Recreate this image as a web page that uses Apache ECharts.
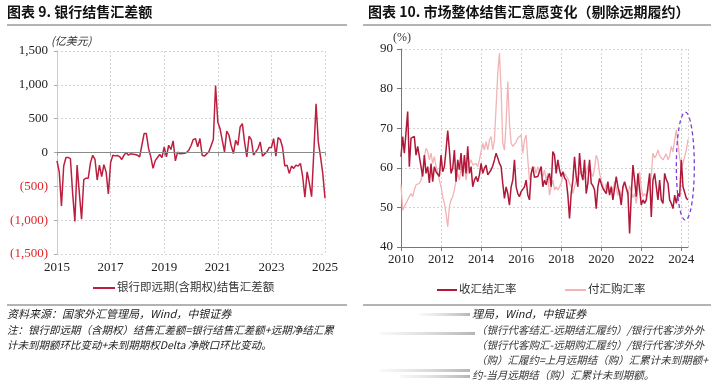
<!DOCTYPE html>
<html><head><meta charset="utf-8">
<script src="https://cdn.jsdelivr.net/npm/echarts@6/dist/echarts.min.js"></script>
<style>html,body{margin:0;padding:0;background:#fff}#c{width:719px;height:386px}</style>
</head><body><div id="c"></div>
<script>
// ---------- data ----------
const leftTitle = '图表 9. 银行结售汇差额';
const rightTitle = '图表 10. 市场整体结售汇意愿变化（剔除远期履约）';
const leftStartYear = 2015;      // monthly data from 2015-01
const rightStartYear = 2010;     // monthly data from 2010-01
const leftSeriesName = '银行即远期(含期权)结售汇差额';
const rightSeriesNames = ['收汇结汇率', '付汇购汇率'];
const leftYTicks = [-1500, -1000, -500, 0, 500, 1000, 1500];
const leftXTicks = [2015, 2017, 2019, 2021, 2023, 2025];
const rightYTicks = [40, 50, 60, 70, 80, 90];
const rightXTicks = [2010, 2012, 2014, 2016, 2018, 2020, 2022, 2024];

const leftNet = [
-123,-285,-790,-200,-73,-73,-90,-600,-1020,-187,-600,-985,
-400,-380,-380,-150,-41,-100,-407,-187,-358,-181,-290,-613,
-150,-40,-50,-45,-60,-103,-40,0,-40,-20,-25,-30,
-40,-64,107,280,280,60,-64,-235,-120,-74,-30,-74,
83,-64,107,44,171,-123,5,-20,-15,-10,0,34,
100,191,206,83,206,-40,-54,-20,10,100,191,990,
450,352,180,10,318,255,100,-15,181,108,377,426,
150,-64,240,191,-40,10,58,157,-54,-20,10,73,
73,206,-54,220,191,73,-200,-186,-309,-201,-235,-186,
-201,-162,-358,-661,-285,-456,-652,10,720,157,-64,-309,
-676];

const settleRate = [
62.8,67.9,63.7,64.1,74.2,60.3,67.5,67.0,67.9,63.2,65.4,62.8,
63.2,57.8,63.2,58.6,60.3,56.2,61.1,56.5,60.3,59.0,58.6,57.8,
63.2,59.0,60.3,64.5,69.4,64.5,58.6,59.9,64.5,56.5,62.0,59.5,
63.7,57.8,63.2,58.6,65.4,58.6,60.3,55.2,56.9,57.8,56.5,58.2,
61.1,58.6,59.9,60.7,58.2,58.2,59.5,60.5,62.0,63.7,62.5,61.1,
60.3,56.0,52.3,55.2,53.5,50.6,55.2,56.9,62.0,55.2,53.5,52.7,
54.0,53.5,55.2,56.9,53.1,51.9,58.6,60.3,57.6,57.8,57.8,57.3,
60.3,55.2,56.9,55.7,57.5,58.6,55.2,64.1,63.2,58.6,62.0,59.5,
57.8,59.0,57.5,56.9,53.1,47.2,53.5,56.9,62.8,57.8,55.2,63.7,
58.6,56.9,62.0,53.5,56.1,62.0,56.1,55.5,54.4,49.7,55.2,57.3,
56.0,54.8,55.2,53.5,56.5,53.1,55.2,51.9,54.8,57.8,55.2,53.5,
50.6,55.2,56.5,55.0,53.5,43.4,53.1,60.7,56.9,52.7,58.6,59.0,
50.6,51.9,51.0,51.9,55.2,58.6,47.6,56.9,58.6,55.2,51.9,56.9,
51.9,51.0,58.6,57.0,56.1,51.9,51.0,49.7,53.1,51.0,53.5,52.7,
62.0,55.2,55.7,52.3,51.9];

const purchaseRate = [
55.7,49.3,50.2,50.6,51.9,51.5,53.5,52.7,54.4,55.7,55.2,56.1,
56.9,59.5,62.8,64.9,64.1,62.0,63.7,61.1,62.8,60.3,59.0,56.9,
55.2,52.7,51.0,48.5,45.1,50.2,51.9,52.7,54.4,56.9,58.6,56.9,
60.3,58.6,61.1,56.9,60.3,59.9,62.0,60.7,60.7,61.1,60.3,62.0,
62.4,66.2,64.5,66.6,64.5,67.0,67.9,64.5,67.0,75.5,83.9,89.0,
79.7,66.2,64.5,71.3,81.8,71.3,66.2,65.4,65.4,66.5,67.5,68.0,
68.3,63.7,67.0,68.3,62.0,56.9,56.9,59.5,60.3,58.6,60.3,59.0,
58.6,57.8,59.5,56.9,58.6,53.1,55.2,56.9,54.4,55.2,54.4,55.2,
56.1,57.8,58.6,59.0,57.3,56.1,55.2,53.5,55.2,56.9,57.8,58.6,
59.5,58.6,57.3,58.6,60.3,61.1,58.6,57.8,59.9,63.2,62.0,58.6,
56.9,55.5,54.0,56.0,55.0,53.5,55.5,54.0,56.5,55.0,53.0,54.5,
52.5,55.0,56.0,54.5,53.0,55.5,54.0,52.5,53.5,51.0,55.0,59.0,
55.0,52.7,53.5,52.7,54.0,55.5,58.0,63.7,62.5,63.2,64.5,63.0,
63.5,62.0,62.4,63.5,62.0,63.0,65.4,64.0,67.0,69.6,66.0,62.5,
60.0,61.1,61.5,64.5,67.2];

// annotation ellipse around recent data (centre in data units)
const highlightCenter = [2024.2, 60.4];

const leftTexts = {
  unit: '(亿美元)',
  source: '资料来源：国家外汇管理局，Wind，中银证券',
  note1: '注：银行即远期（含期权）结售汇差额=银行结售汇差额+远期净结汇累',
  note2: '计未到期额环比变动+未到期期权Delta 净敞口环比变动。'
};
const rightTexts = {
  unit: '(%)',
  source: '理局，Wind，中银证券',
  notes: [
    '（银行代客结汇-远期结汇履约）/银行代客涉外外',
    '（银行代客购汇-远期购汇履约）/银行代客涉外外',
    '（购）汇履约=上月远期结（购）汇累计未到期额+',
    '约-当月远期结（购）汇累计未到期额。'
  ]
};

// ---------- chart ----------
const DARK = '#b0183a', LIGHT = '#f2b3b6', LEFTC = '#bd1f40';
const SERIF = '"Liberation Serif","DejaVu Serif",serif';
const CJK = '"Noto Sans CJK SC","Noto Sans",sans-serif';
const chart = echarts.init(document.getElementById('c'), null, {renderer: 'canvas'});

const toXY = (arr, start) => arr.map((v, i) => [start + i / 12, v]);
const fmtThousands = v => Math.abs(v).toLocaleString('en-US');

const gridLine = {show: true, lineStyle: {color: '#d4d4d4', type: [2, 2], width: 1}};

const option = {
  animation: false,
  backgroundColor: '#fff',
  grid: [
    {left: 57, top: 51, width: 268, height: 203},
    {left: 401, top: 49, width: 287, height: 198}
  ],
  xAxis: [
    {gridIndex: 0, type: 'value', min: leftXTicks[0], max: leftXTicks[leftXTicks.length - 1], interval: 2,
     axisLine: {show: true, lineStyle: {color: '#bbb'}}, axisTick: {show: true, length: 3, lineStyle: {color: '#999'}},
     axisLabel: {color: '#222', fontFamily: SERIF, fontSize: 13, margin: 7, formatter: v => String(v)},
     splitLine: gridLine},
    {gridIndex: 1, type: 'value', min: rightXTicks[0], max: rightStartYear + (settleRate.length - 1) / 12, interval: 2,
     axisLine: {show: true, lineStyle: {color: '#777'}}, axisTick: {show: true, length: 4, lineStyle: {color: '#777'}},
     axisLabel: {color: '#222', fontFamily: SERIF, fontSize: 13, margin: 6, showMaxLabel: false,
       formatter: v => Number.isInteger(v) ? String(v) : ''},
     splitLine: gridLine}
  ],
  yAxis: [
    {gridIndex: 0, type: 'value', min: leftYTicks[0], max: leftYTicks[leftYTicks.length - 1], interval: 500,
     axisLine: {show: true, lineStyle: {color: '#ccc'}}, axisTick: {show: true, length: 3, lineStyle: {color: '#aaa'}},
     axisLabel: {fontFamily: SERIF, fontSize: 13, margin: 9, color: '#222',
       formatter: v => v < 0 ? '{n|(' + fmtThousands(v) + ')}' : fmtThousands(v),
       rich: {n: {color: '#e0262b', fontFamily: SERIF, fontSize: 13}}},
     splitLine: gridLine},
    {gridIndex: 1, type: 'value', min: rightYTicks[0], max: rightYTicks[rightYTicks.length - 1], interval: 10,
     axisLine: {show: true, lineStyle: {color: '#777'}}, axisTick: {show: true, length: 4, lineStyle: {color: '#777'}},
     axisLabel: {color: '#222', fontFamily: SERIF, fontSize: 13, margin: 8},
     splitLine: gridLine}
  ],
  series: [
    {type: 'line', name: leftSeriesName, xAxisIndex: 0, yAxisIndex: 0, data: toXY(leftNet, leftStartYear),
     symbol: 'none', lineStyle: {color: LEFTC, width: 1.5}, z: 3,
     markLine: {silent: true, symbol: 'none', label: {show: false},
       lineStyle: {color: '#8a8a8a', type: 'solid', width: 1.2}, data: [{yAxis: 0}]}},
    {type: 'line', name: rightSeriesNames[1], xAxisIndex: 1, yAxisIndex: 1, data: toXY(purchaseRate, rightStartYear),
     symbol: 'none', lineStyle: {color: LIGHT, width: 1.3}, z: 2},
    {type: 'line', name: rightSeriesNames[0], xAxisIndex: 1, yAxisIndex: 1, data: toXY(settleRate, rightStartYear),
     symbol: 'none', lineStyle: {color: DARK, width: 1.5}, z: 3}
  ]
};
chart.setOption(option);

// ---------- decorations / texts ----------
const centre = chart.convertToPixel({xAxisIndex: 1, yAxisIndex: 1}, highlightCenter);
const txt = (x, y, s, o) => Object.assign({type: 'text', left: x, top: y, silent: true,
  style: Object.assign({text: s, fill: '#222', font: '11px ' + CJK}, o || {})});
const rule = (x1, x2, y) => ({type: 'line', silent: true, shape: {x1, y1: y, x2, y2: y},
  style: {stroke: '#9a9a9a', lineWidth: 1.5}});
const blur = (x, y, w) => ({type: 'rect', silent: true, shape: {x, y, width: w, height: 3},
  style: {fill: new echarts.graphic.LinearGradient(0, 0, 1, 0, [{offset: 0, color: 'rgba(190,190,190,0.1)'}, {offset: 1, color: 'rgba(150,150,150,0.7)'}])}});

const graphics = [
  txt(7, 5, leftTitle, {font: 'bold 14px ' + CJK, fill: '#111'}),
  txt(368, 5, rightTitle, {font: 'bold 14px ' + CJK, fill: '#111'}),
  rule(7, 347, 25), rule(363, 711, 25),
  txt(51, 35, leftTexts.unit, {font: 'italic 11px ' + CJK, fill: '#333'}),
  txt(393, 32, rightTexts.unit, {font: '12px ' + SERIF, fill: '#333'}),
  // legends
  {type: 'line', silent: true, shape: {x1: 93, y1: 288, x2: 115, y2: 288}, style: {stroke: LEFTC, lineWidth: 2}},
  txt(117, 281, leftSeriesName, {font: '11.5px ' + CJK, fill: '#333'}),
  {type: 'line', silent: true, shape: {x1: 437, y1: 290, x2: 457, y2: 290}, style: {stroke: DARK, lineWidth: 2}},
  txt(459, 283, rightSeriesNames[0], {font: '11.5px ' + CJK, fill: '#333'}),
  {type: 'line', silent: true, shape: {x1: 565, y1: 290, x2: 586, y2: 290}, style: {stroke: LIGHT, lineWidth: 2}},
  txt(588, 283, rightSeriesNames[1], {font: '11.5px ' + CJK, fill: '#333'}),
  rule(7, 347, 305), rule(363, 711, 305),
  // footnotes
  txt(7, 308, leftTexts.source, {font: 'italic 11px ' + CJK, fill: '#222'}),
  txt(7, 325, leftTexts.note1, {font: 'italic 10.5px ' + CJK, fill: '#222'}),
  txt(7, 340, leftTexts.note2, {font: 'italic 10.5px ' + CJK, fill: '#222'}),
  txt(472, 308, rightTexts.source, {font: 'italic 11px ' + CJK, fill: '#222'}),
  txt(476, 325, rightTexts.notes[0], {font: 'italic 10.5px ' + CJK, fill: '#333'}),
  txt(476, 340, rightTexts.notes[1], {font: 'italic 10.5px ' + CJK, fill: '#333'}),
  txt(476, 355, rightTexts.notes[2], {font: 'italic 10.5px ' + CJK, fill: '#333'}),
  txt(472, 370, rightTexts.notes[3], {font: 'italic 10.5px ' + CJK, fill: '#333'}),
  blur(420, 313, 50), blur(380, 332, 95), blur(380, 369, 90), blur(400, 375, 70),
  // highlight ellipse
  {type: 'ellipse', silent: true, z: 10, shape: {cx: centre[0], cy: centre[1], rx: 9, ry: 54},
   style: {fill: 'none', stroke: '#7b3fd6', lineWidth: 1.3, lineDash: [4, 3]}}
];
chart.setOption({graphic: graphics});
</script></body></html>
